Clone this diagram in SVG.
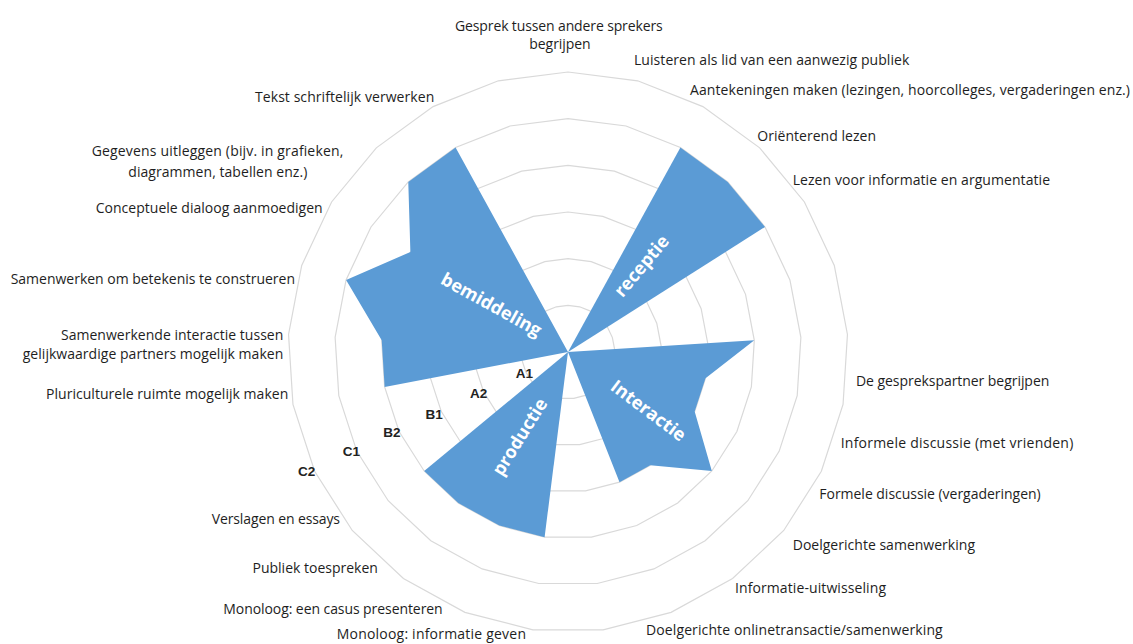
<svg xmlns="http://www.w3.org/2000/svg" xmlns:xlink="http://www.w3.org/1999/xlink" width="1133" height="644" viewBox="0 0 1133 644">
  <style>
    .ring { fill: none; stroke: #d9d9d9; }
    .area { fill: #5b9bd5; stroke: none; }
    .lbl { font-family: "Open Sans", "Noto Sans", sans-serif; font-size: 14px; fill: #1e1e1e; }
    .lvl { font-family: "Liberation Sans", Arial, sans-serif; font-size: 13.5px; font-weight: bold; fill: #222; text-anchor: middle; }
    .cat { font-family: "Open Sans", "Noto Sans", sans-serif; font-size: 18px; font-weight: bold; fill: #ffffff; text-anchor: middle; }
  </style>
  <defs>
    <polygon id="gon" points="0,-100 24.869,-96.858 48.175,-87.631 68.455,-72.897 84.433,-53.583 95.106,-30.902 99.803,-6.279 98.229,18.738 90.483,42.578 77.051,63.742 58.779,80.902 36.812,92.978 12.533,99.211 -12.533,99.211 -36.812,92.978 -58.779,80.902 -77.051,63.742 -90.483,42.578 -98.229,18.738 -99.803,-6.279 -95.106,-30.902 -84.433,-53.583 -68.455,-72.897 -48.175,-87.631 -24.869,-96.858"/>
  </defs>
  <rect width="1133" height="644" fill="#ffffff"/>

  <g id="grid" transform="translate(568,352)">
    <use xlink:href="#gon" class="ring" transform="scale(0.46667)" stroke-width="2.571"/>
    <use xlink:href="#gon" class="ring" transform="scale(0.93333)" stroke-width="1.286"/>
    <use xlink:href="#gon" class="ring" transform="scale(1.4)" stroke-width="0.857"/>
    <use xlink:href="#gon" class="ring" transform="scale(1.86667)" stroke-width="0.643"/>
    <use xlink:href="#gon" class="ring" transform="scale(2.33333)" stroke-width="0.514"/>
    <use xlink:href="#gon" class="ring" transform="scale(2.8)" stroke-width="0.429"/>
  </g>

  <g id="receptie">
    <polygon class="area" points="568,352 680.41,147.53 727.73,181.91 765.01,226.97"/>
    <text class="cat" transform="translate(642.5,266.7) rotate(-50)" x="0" y="5">receptie</text>
  </g>
  <g id="interactie">
    <polygon class="area" points="568,352 754.3,340.28 705.52,378.23 694.68,411.61 711.83,470.99 650.29,465.26 619.54,482.17"/>
    <text class="cat" transform="translate(648.3,410.8) rotate(37)" x="0" y="6">Interactie</text>
  </g>
  <g id="productie">
    <polygon class="area" points="568,352 544.6,537.19 499.28,525.56 458.28,503.02 424.17,470.99"/>
    <text class="cat" transform="translate(520.8,437.5) rotate(-58)" x="0" y="5">productie</text>
  </g>
  <g id="bemiddeling">
    <polygon class="area" points="568,352 384.64,386.98 381.7,340.28 346.09,279.9 410.39,251.98 408.27,181.91 455.59,147.53"/>
    <text class="cat" transform="translate(490.8,305.8) rotate(29)" x="0" y="5">bemiddeling</text>
  </g>

  <g id="levels">
    <text class="lvl" x="524.5" y="378.3">A1</text>
    <text class="lvl" x="478.7" y="398.3">A2</text>
    <text class="lvl" x="434.2" y="419">B1</text>
    <text class="lvl" x="392" y="437.3">B2</text>
    <text class="lvl" x="351.3" y="455.7">C1</text>
    <text class="lvl" x="306.7" y="475.7">C2</text>
  </g>

  <g id="labels">
    <text class="lbl" x="455" y="31" textLength="207.7">Gesprek tussen andere sprekers</text>
    <text class="lbl" x="529.3" y="49" textLength="61.4">begrijpen</text>
    <text class="lbl" x="634" y="65" textLength="275.3">Luisteren als lid van een aanwezig publiek</text>
    <text class="lbl" x="690" y="95" textLength="440">Aantekeningen maken (lezingen, hoorcolleges, vergaderingen enz.)</text>
    <text class="lbl" x="757.3" y="140.5" textLength="118.7">Oriënterend lezen</text>
    <text class="lbl" x="792.7" y="185" textLength="257.3">Lezen voor informatie en argumentatie</text>
    <text class="lbl" x="856" y="386" textLength="193.3">De gesprekspartner begrijpen</text>
    <text class="lbl" x="840.7" y="448" textLength="232.6">Informele discussie (met vrienden)</text>
    <text class="lbl" x="819.3" y="498.5" textLength="221.4">Formele discussie (vergaderingen)</text>
    <text class="lbl" x="792.7" y="550" textLength="182.3">Doelgerichte samenwerking</text>
    <text class="lbl" x="735" y="592.5" textLength="151">Informatie-uitwisseling</text>
    <text class="lbl" x="646" y="635" textLength="296.7">Doelgerichte onlinetransactie/samenwerking</text>
    <text class="lbl" x="211.7" y="524" textLength="128.3">Verslagen en essays</text>
    <text class="lbl" x="252.5" y="573">Publiek toespreken</text>
    <text class="lbl" x="223.3" y="613.5" textLength="219.4">Monoloog: een casus presenteren</text>
    <text class="lbl" x="336.7" y="638.5" textLength="189.3">Monoloog: informatie geven</text>
    <text class="lbl" x="255" y="102" textLength="179.3">Tekst schriftelijk verwerken</text>
    <text class="lbl" x="91.7" y="156" textLength="251.6">Gegevens uitleggen (bijv. in grafieken,</text>
    <text class="lbl" x="128.3" y="177" textLength="179">diagrammen, tabellen enz.)</text>
    <text class="lbl" x="95.7" y="213" textLength="227">Conceptuele dialoog aanmoedigen</text>
    <text class="lbl" x="10.7" y="284" textLength="284.3">Samenwerken om betekenis te construeren</text>
    <text class="lbl" x="61" y="340" textLength="222.3">Samenwerkende interactie tussen</text>
    <text class="lbl" x="22.7" y="358.5" textLength="260.6">gelijkwaardige partners mogelijk maken</text>
    <text class="lbl" x="46" y="398.5" textLength="242.3">Pluriculturele ruimte mogelijk maken</text>
  </g>
</svg>
